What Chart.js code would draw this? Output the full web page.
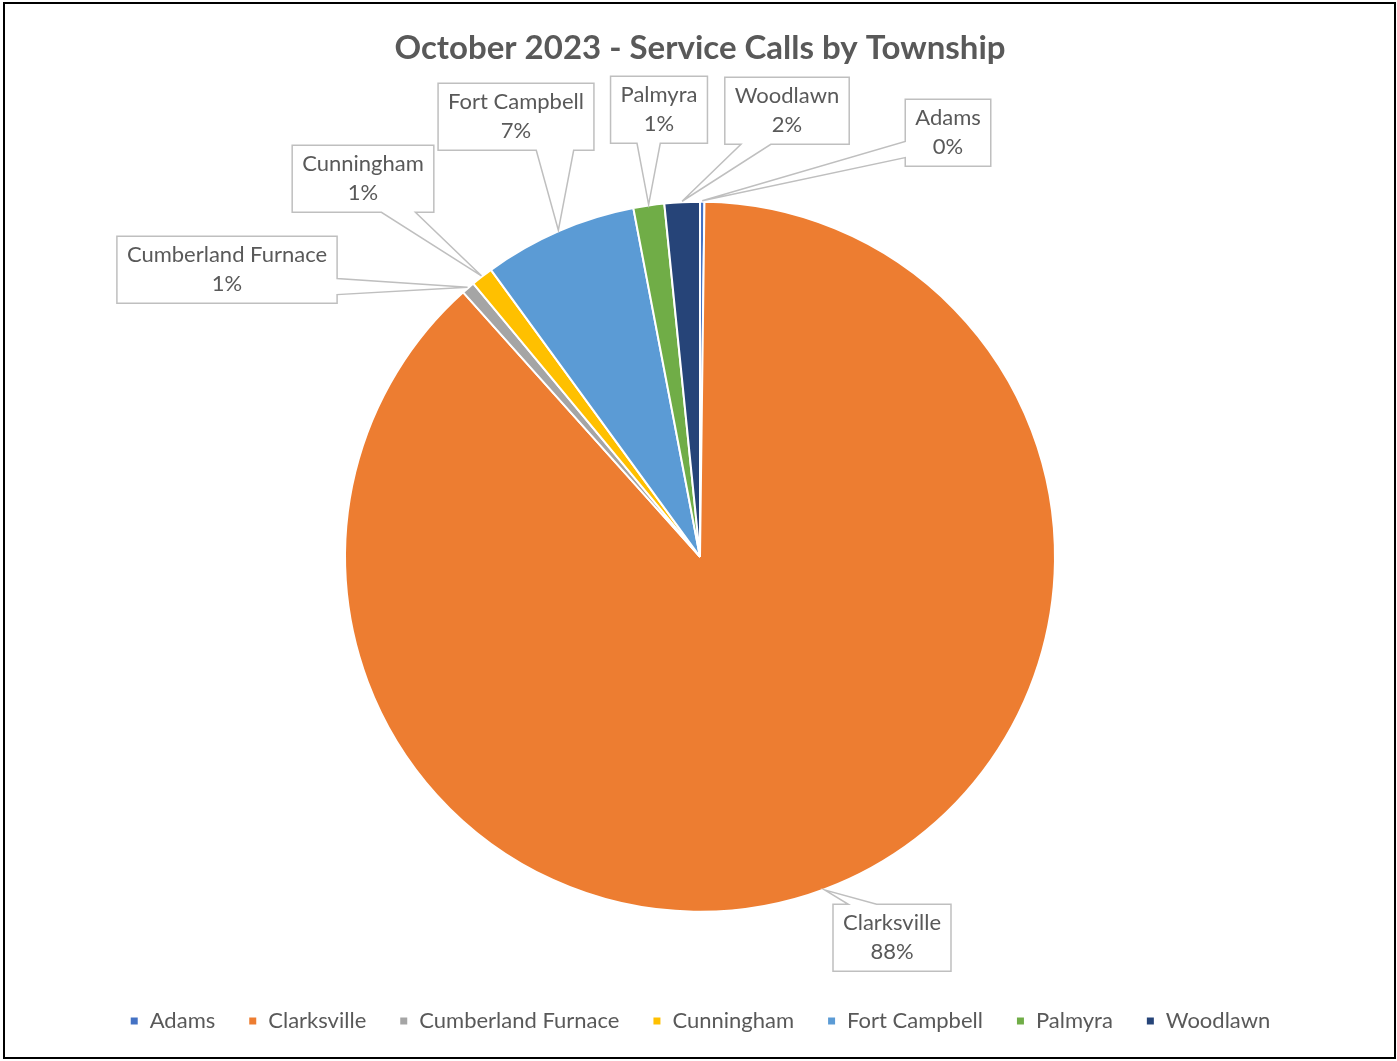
<!DOCTYPE html>
<html>
<head>
<meta charset="utf-8">
<title>October 2023 - Service Calls by Township</title>
<script src="https://cdn.jsdelivr.net/npm/chart.js@4.4.0/dist/chart.umd.min.js"></script>
<style>
  html, body { margin: 0; padding: 0; background: #fff; overflow: hidden; }
  #wrap { position: relative; width: 1397px; height: 1061px; }
</style>
</head>
<body>
<div id="wrap"><canvas id="chart"></canvas></div>
<script>
const townships = ['Adams', 'Clarksville', 'Cumberland Furnace', 'Cunningham', 'Fort Campbell', 'Palmyra', 'Woodlawn'];
const calls = [1, 440, 3, 5, 35, 7, 8];
const sliceColors = ['#4472C4', '#ED7D31', '#A5A5A5', '#FFC000', '#5B9BD5', '#70AD47', '#264478'];

// callout box centres, as offsets from the pie centre
const calloutOffsets = [[248, -424], [192, 381], [-473, -287], [-337, -378], [-184, -440], [-41, -447], [87, -446]];

const FONT = 'Lato, "Open Sans", sans-serif';

// white background + outer frame
const frame = {
  id: 'frame',
  beforeDraw(chart) {
    const ctx = chart.ctx;
    ctx.save();
    ctx.fillStyle = '#fff';
    ctx.fillRect(0, 0, chart.width, chart.height);
    ctx.restore();
  },
  afterDraw(chart) {
    const ctx = chart.ctx;
    ctx.save();
    ctx.strokeStyle = '#000';
    ctx.lineWidth = 2;
    ctx.strokeRect(4, 3, 1391, 1055);
    ctx.restore();
  }
};

// excel style data callouts
const callouts = {
  id: 'callouts',
  afterDatasetsDraw(chart) {
    const ctx = chart.ctx;
    const meta = chart.getDatasetMeta(0);
    const total = calls.reduce((a, b) => a + b, 0);
    ctx.save();
    ctx.font = '22px ' + FONT;
    meta.data.forEach((arc, i) => {
      const p = arc.getProps(['x', 'y', 'startAngle', 'endAngle', 'outerRadius'], true);
      const mid = (p.startAngle + p.endAngle) / 2;
      const tip = {x: p.x + Math.cos(mid) * (p.outerRadius + 1), y: p.y + Math.sin(mid) * (p.outerRadius + 1)};
      const lines = [townships[i], Math.round(calls[i] / total * 100) + '%'];
      const w = Math.max(...lines.map(t => ctx.measureText(t).width)) + 20;
      const h = 67;
      const cx = p.x + calloutOffsets[i][0], cy = p.y + calloutOffsets[i][1];
      const L = cx - w / 2, R = cx + w / 2, T = cy - h / 2, B = cy + h / 2;

      const dx = tip.x < L ? L - tip.x : (tip.x > R ? tip.x - R : 0);
      const dy = tip.y < T ? T - tip.y : (tip.y > B ? tip.y - B : 0);
      const clamp = (v, a, b) => Math.max(a, Math.min(b, v));
      let pts;
      if (dy >= dx) {
        const s = clamp(tip.x, L + w / 4, R - w / 4), hw = w * 0.12;
        if (tip.y > B) {
          pts = [[L, T], [R, T], [R, B], [s + hw, B], [tip.x, tip.y], [s - hw, B], [L, B]];
        } else {
          pts = [[L, T], [s - hw, T], [tip.x, tip.y], [s + hw, T], [R, T], [R, B], [L, B]];
        }
      } else {
        const s = clamp(tip.y, T + h / 4, B - h / 4), hw = h * 0.12;
        if (tip.x > R) {
          pts = [[L, T], [R, T], [R, s - hw], [tip.x, tip.y], [R, s + hw], [R, B], [L, B]];
        } else {
          pts = [[L, T], [R, T], [R, B], [L, B], [L, s + hw], [tip.x, tip.y], [L, s - hw]];
        }
      }
      ctx.beginPath();
      pts.forEach((q, k) => k ? ctx.lineTo(q[0], q[1]) : ctx.moveTo(q[0], q[1]));
      ctx.closePath();
      ctx.fillStyle = '#fff';
      ctx.fill();
      ctx.strokeStyle = '#BFBFBF';
      ctx.lineWidth = 1.5;
      ctx.stroke();

      ctx.fillStyle = '#595959';
      ctx.textAlign = 'center';
      ctx.textBaseline = 'middle';
      ctx.fillText(lines[0], cx, cy - 14.5);
      ctx.fillText(lines[1], cx, cy + 14.5);
    });
    ctx.restore();
  }
};

const ctx = document.getElementById('chart').getContext('2d');
const chart = new Chart(ctx, {
  type: 'pie',
  data: {
    labels: townships,
    datasets: [{
      data: calls,
      backgroundColor: sliceColors,
      borderColor: '#fff',
      borderWidth: 2,
      hoverOffset: 0
    }]
  },
  options: {
    responsive: true,
    maintainAspectRatio: false,
    animation: false,
    radius: 355,
    layout: {padding: {top: 10, left: 3, right: 0, bottom: 19}},
    plugins: {
      title: {
        display: true,
        text: 'October 2023 - Service Calls by Township',
        color: '#595959',
        font: {family: FONT, size: 33, weight: 'bold'},
        padding: {top: 19, bottom: 68}
      },
      legend: {
        position: 'bottom',
        labels: {
          boxWidth: 9,
          boxHeight: 9,
          color: '#595959',
          font: {family: FONT, size: 22},
          padding: 33
        }
      },
      tooltip: {enabled: false}
    }
  },
  plugins: [frame, callouts]
});
</script>
</body>
</html>
